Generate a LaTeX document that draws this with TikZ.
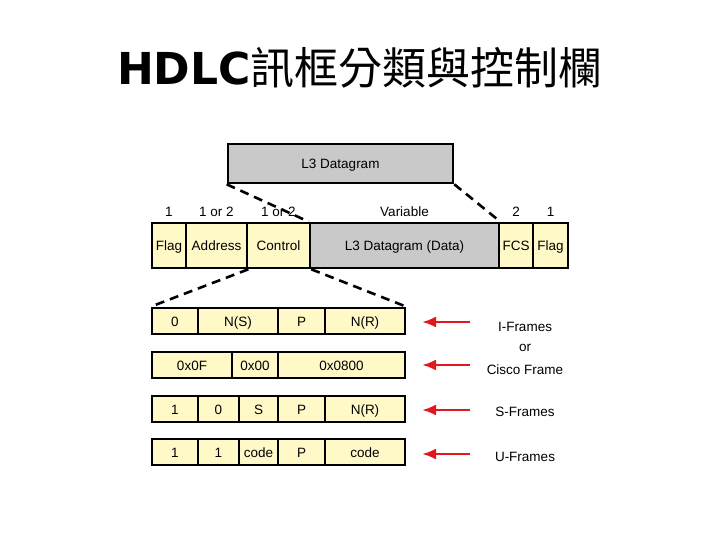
\documentclass[tikz,border=0pt]{standalone}
\usepackage{fontspec}
\setmainfont{Liberation Sans}
\newfontfamily\cjk{Noto Sans CJK TC}
\newfontfamily\heavy{DejaVu Sans}[BoldFont=* Bold]
\usetikzlibrary{arrows.meta}

\definecolor{cellyellow}{HTML}{FFF9C8}
\definecolor{cellgray}{HTML}{C9C9C9}
\definecolor{arrowred}{HTML}{E0191F}

\tikzset{
  cell/.style={rectangle, draw, line width=2.6pt, fill=cellyellow, inner sep=0pt,
    text height=12pt, text depth=2pt, font=\fontsize{13.5}{15}\selectfont},
  graycell/.style={cell, fill=cellgray},
  sizelbl/.style={inner sep=0pt, font=\fontsize{13.5}{15}\selectfont},
  framelbl/.style={inner sep=0pt, font=\fontsize{13.5}{15}\selectfont},
  zoomline/.style={line width=2.6pt, dash pattern=on 9pt off 6pt},
  redarrow/.style={draw=arrowred, line width=2.6pt, -{Latex[length=14pt,width=11pt]}}
}

\begin{document}
\begin{tikzpicture}[x={(1pt,0pt)}, y={(0pt,-1pt)}]
    \useasboundingbox (0,0) rectangle (720,540);

    % タイトル
    \node[inner sep=0pt] (title) at (360,68) {\fontsize{44}{48}\selectfont\heavy\bfseries HDLC\cjk\mdseries 訊框分類與控制欄};

    % L3 Datagram
    \node[graycell, minimum width=225pt, minimum height=39pt] (l3) at (340.5,163.5) {L3 Datagram};

    % HDLCフレーム
    \node[cell, minimum width=34pt, minimum height=45pt] (flag) at (169,245.5) {Flag};
    \node[cell, minimum width=61pt, minimum height=45pt] (addr) at (216.5,245.5) {Address};
    \node[cell, minimum width=63pt, minimum height=45pt] (ctrl) at (278.5,245.5) {Control};
    \node[graycell, minimum width=189pt, minimum height=45pt] (data) at (404.5,245.5) {L3 Datagram (Data)};
    \node[cell, minimum width=34pt, minimum height=45pt] (fcs) at (516,245.5) {FCS};
    \node[cell, minimum width=35pt, minimum height=45pt] (flagb) at (550.5,245.5) {Flag};

    % バイト数
    \node[sizelbl, above=5pt] (szflag) at (flag.north) {1};
    \node[sizelbl, above=5pt] (szaddr) at (addr.north) {1 or 2};
    \node[sizelbl, above=5pt] (szctrl) at (ctrl.north) {1 or 2};
    \node[sizelbl, above=5pt] (szdata) at (data.north) {Variable};
    \node[sizelbl, above=5pt] (szfcs) at (fcs.north) {2};
    \node[sizelbl, above=5pt] (szflagb) at (flagb.north) {1};

    % I-Frame
    \node[cell, minimum width=46pt, minimum height=26pt] (ia) at (175,321) {0};
    \node[cell, minimum width=80pt, minimum height=26pt] (ib) at (238,321) {N(S)};
    \node[cell, minimum width=47pt, minimum height=26pt] (ic) at (301.5,321) {P};
    \node[cell, minimum width=80pt, minimum height=26pt] (id) at (365,321) {N(R)};

    % Cisco Frame
    \node[cell, minimum width=80pt, minimum height=26pt] (ca) at (192,365) {0x0F};
    \node[cell, minimum width=46pt, minimum height=26pt] (cb) at (255,365) {0x00};
    \node[cell, minimum width=127pt, minimum height=26pt] (cc) at (341.5,365) {0x0800};

    % S-Frame
    \node[cell, minimum width=46pt, minimum height=26pt] (sa) at (175,409) {1};
    \node[cell, minimum width=41pt, minimum height=26pt] (sb) at (218.5,409) {0};
    \node[cell, minimum width=39pt, minimum height=26pt] (sc) at (258.5,409) {S};
    \node[cell, minimum width=47pt, minimum height=26pt] (sd) at (301.5,409) {P};
    \node[cell, minimum width=80pt, minimum height=26pt] (se) at (365,409) {N(R)};

    % U-Frame
    \node[cell, minimum width=46pt, minimum height=26pt] (ua) at (175,452) {1};
    \node[cell, minimum width=41pt, minimum height=26pt] (ub) at (218.5,452) {1};
    \node[cell, minimum width=39pt, minimum height=26pt] (uc) at (258.5,452) {code};
    \node[cell, minimum width=47pt, minimum height=26pt] (ud) at (301.5,452) {P};
    \node[cell, minimum width=80pt, minimum height=26pt] (ue) at (365,452) {code};

    % 点線
    \draw[zoomline] (l3.south west) -- (data.north west);
    \draw[zoomline] (l3.south east) -- (data.north east);
    \draw[zoomline] (addr.south east) -- (ia.north west);
    \draw[zoomline] (ctrl.south east) -- (id.north east);

    % 右側のラベル
    \node[framelbl] (ilbl) at (525,327) {I-Frames};
    \node[framelbl] (orlbl) at (525,348) {or};
    \node[framelbl] (clbl) at (525,370) {Cisco Frame};
    \node[framelbl] (slbl) at (525,412) {S-Frames};
    \node[framelbl] (ulbl) at (525,457) {U-Frames};

    % 矢印
    \coordinate (itail) at (470,322);
    \coordinate (ihead) at (422,322);
    \coordinate (ctail) at (470,365);
    \coordinate (chead) at (422,365);
    \coordinate (stail) at (470,410);
    \coordinate (shead) at (422,410);
    \coordinate (utail) at (470,454);
    \coordinate (uhead) at (422,454);
    \draw[redarrow] (itail) -- (ihead);
    \draw[redarrow] (ctail) -- (chead);
    \draw[redarrow] (stail) -- (shead);
    \draw[redarrow] (utail) -- (uhead);
\end{tikzpicture}
\end{document}
